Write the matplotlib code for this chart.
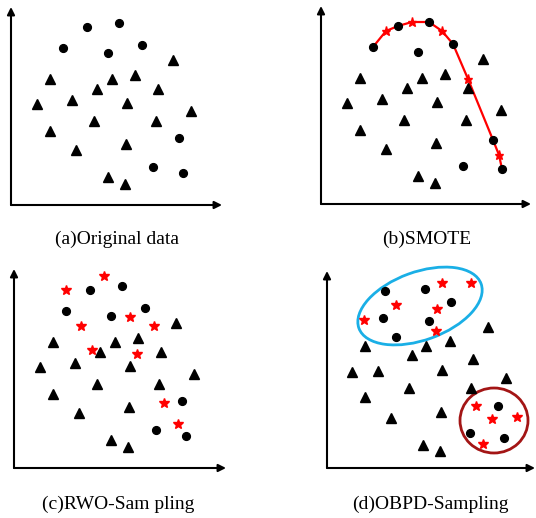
import matplotlib
matplotlib.use("Agg")
import matplotlib.pyplot as plt
from matplotlib.patches import Ellipse

# ---------------- data (local panel coordinates, arbitrary units) ----------------
circle_x = [76, 108, 52, 97, 131, 168, 142, 172]
circle_y = [178, 182, 157, 152, 160, 67, 38, 32]
tri_x = [162, 39, 101, 124, 86, 147, 26, 61, 116, 180, 83, 145, 39, 65, 115, 97, 114]
tri_y = [145, 126, 126, 130, 116, 116, 101, 105, 102, 94, 84, 84, 74, 55, 61, 28, 21]

smote_circle_x = [52, 77, 108, 132, 97, 172, 142, 181]
smote_circle_y = [157, 178, 182, 160, 152, 64, 38, 35]
smote_line_x = [52, 65, 77, 91, 108, 121, 132, 147, 172, 178, 181]
smote_line_y = [157, 173, 178, 182, 182, 173, 160, 125, 64, 49, 35]
smote_star_x = [65, 91, 121, 147, 178]
smote_star_y = [173, 182, 173, 125, 49]

rwo_star_x = [52, 90, 67, 116, 140, 78, 123, 150, 164]
rwo_star_y = [178, 192, 142, 151, 142, 118, 114, 65, 44]

obpd_circle_x = [58, 98, 124, 56, 102, 69, 171, 143, 177]
obpd_circle_y = [177, 179, 166, 150, 147, 131, 62, 35, 30]
obpd_tri_x = [161, 38, 99, 123, 85, 146, 25, 51, 115, 179, 82, 144, 38, 64, 114, 96, 113]
obpd_tri_y = [141, 122, 122, 127, 113, 109, 96, 97, 98, 90, 80, 80, 71, 50, 56, 23, 17]
obpd_star_x = [115, 144, 69, 110, 37, 109, 149, 165, 190, 156]
obpd_star_y = [185, 185, 163, 159, 148, 137, 62, 49, 51, 24]

titles = ["(a)Original data", "(b)SMOTE", "(c)RWO-Sam pling", "(d)OBPD-Sampling"]

# ---------------- figure ----------------
W, H = 536, 518
fig = plt.figure(figsize=(W / 100, H / 100), dpi=100)

# panel: (origin x px, origin y px from top, axis width, axis height)
panels = [(11, 205, 211, 198), (321, 204, 210, 198), (14, 468, 212, 199), (327, 468, 208, 197)]
title_pos = [(117, 239), (427, 239), (118, 504), (430, 504)]

pad = 12
axes = []
for (ox, oy, aw, ah) in panels:
    left = (ox - pad) / W
    bottom = (H - oy - pad) / H
    ax = fig.add_axes([left, bottom, (aw + 2 * pad) / W, (ah + 2 * pad) / H])
    ax.set_xlim(-pad, aw + pad)
    ax.set_ylim(-pad, ah + pad)
    ax.axis("off")
    for end in [(aw, 0), (0, ah)]:
        ax.annotate("", xy=end, xytext=(0, 0),
                    arrowprops=dict(arrowstyle="-|>", lw=1.5, color="black", mutation_scale=11,
                                    shrinkA=0, shrinkB=0))
    axes.append(ax)

cms, tms, sms = 5.6, 7.0, 7.5

# (a)
ax = axes[0]
ax.plot(circle_x, circle_y, "o", color="black", ms=cms, ls="none")
ax.plot(tri_x, tri_y, "^", color="black", ms=tms, ls="none")

# (b)
ax = axes[1]
ax.plot(smote_line_x, smote_line_y, "-", color="red", lw=1.6, zorder=2, solid_joinstyle="round")
ax.plot(smote_circle_x, smote_circle_y, "o", color="black", ms=cms, ls="none", zorder=3)
ax.plot(smote_star_x, smote_star_y, "*", color="red", ms=6.5, ls="none", zorder=4)
ax.plot(tri_x, tri_y, "^", color="black", ms=tms, ls="none")

# (c)
ax = axes[2]
ax.plot(circle_x, circle_y, "o", color="black", ms=cms, ls="none")
ax.plot(tri_x, tri_y, "^", color="black", ms=tms, ls="none")
ax.plot(rwo_star_x, rwo_star_y, "*", color="red", ms=sms, ls="none")

# (d)
ax = axes[3]
ax.plot(obpd_circle_x, obpd_circle_y, "o", color="black", ms=cms, ls="none")
ax.plot(obpd_tri_x, obpd_tri_y, "^", color="black", ms=tms, ls="none")
ax.plot(obpd_star_x, obpd_star_y, "*", color="red", ms=sms, ls="none")
ax.add_patch(Ellipse((93, 162), 130, 68, angle=20, fill=False, ec="#1AAFE6", lw=2))
ax.add_patch(Ellipse((167, 47.5), 68, 65, angle=0, fill=False, ec="#A31515", lw=2))

for (tx, ty), t in zip(title_pos, titles):
    fig.text(tx / W, 1 - ty / H, t, ha="center", va="center", fontsize=14,
             family=["Liberation Serif", "DejaVu Serif"])

fig.savefig("out.png", dpi=100)
